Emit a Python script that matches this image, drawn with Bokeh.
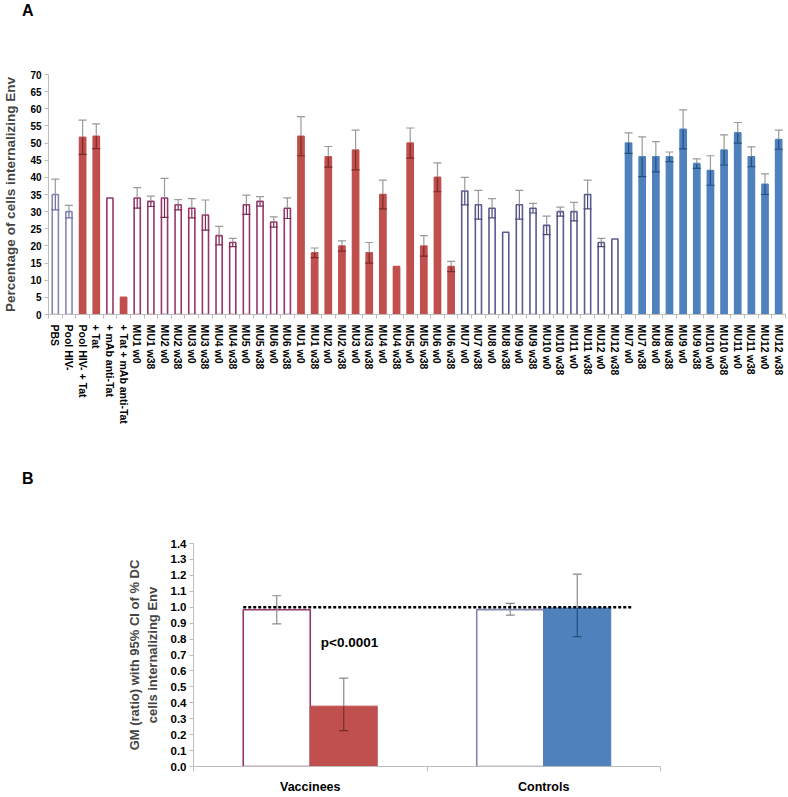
import numpy as np
from bokeh.plotting import figure
from bokeh.models import (Range1d, LinearAxis, FixedTicker, CustomJSTickFormatter,
                          ColumnDataSource, NumeralTickFormatter, Div)
from bokeh.core.properties import value
from bokeh.embed import file_html
from bokeh.resources import INLINE

FONT = "Liberation Sans"

# ---------------- Panel A data ----------------
control_labels = ["PBS", "Pool HIV-", "Pool HIV- + Tat", "+ Tat", "+ mAb anti-Tat", "+ Tat + mAb anti-Tat"]
control_values = [35, 30, 51.7, 52, 34, 5]
control_errors = [4.5, 1.8, 5.0, 3.6, 0, 0]
control_kinds = ["open_grey", "open_grey", "red", "red", "open_vacc", "red"]

vacc_labels = ["MU1 w0", "MU1 w38", "MU2 w0", "MU2 w38", "MU3 w0", "MU3 w38",
               "MU4 w0", "MU4 w38", "MU5 w0", "MU5 w38", "MU6 w0", "MU6 w38"]
ctrl_labels = ["MU7 w0", "MU7 w38", "MU8 w0", "MU8 w38", "MU9 w0", "MU9 w38",
               "MU10 w0", "MU10 w38", "MU11 w0", "MU11 w38", "MU12 w0", "MU12 w38"]

vacc_open_values = [34, 33, 34, 32, 31, 29, 23, 21, 32, 33, 27, 31]
vacc_open_errors = [3.0, 1.5, 5.7, 1.5, 2.8, 4.4, 2.7, 1.2, 2.8, 1.4, 1.5, 3.0]
vacc_tat_values = [52, 18, 46, 20, 48, 18, 35, 14, 50, 20, 40, 14]
vacc_tat_errors = [5.7, 1.4, 3.0, 1.5, 5.8, 3.0, 4.2, 0, 4.4, 3.0, 4.2, 1.5]
ctrl_open_values = [36, 32, 31, 24, 32, 31, 26, 30, 30, 35, 21, 22]
ctrl_open_errors = [4.0, 4.2, 2.8, 0, 4.2, 1.4, 2.7, 1.3, 2.7, 4.2, 1.2, 0]
ctrl_tat_values = [50, 46, 46, 46, 54, 44, 42, 48, 53, 46, 38, 51]
ctrl_tat_errors = [3.0, 5.8, 4.4, 1.4, 5.7, 1.4, 4.3, 4.4, 3.0, 2.9, 3.0, 2.8]

# ---------------- Panel B data ----------------
groups_b = ["Vaccinees", "Controls"]
ratio_open = [0.984, 0.985]
ratio_open_lo = [0.895, 0.950]
ratio_open_hi = [1.072, 1.024]
ratio_tat = [0.379, 0.995]
ratio_tat_lo = [0.225, 0.815]
ratio_tat_hi = [0.555, 1.208]
reference_ratio = 1.0
p_value_text = "p<0.0001"
panel_letters = ["A", "B"]

# ---------------- styles ----------------
STYLE = {
    "open_grey": dict(fill="white", line="#8686b2", low="#6b6b98"),
    "open_vacc": dict(fill="white", line="#96386a", low="#7a2d55"),
    "red":       dict(fill="#c0504d", line="#c0504d", low="#7c2a28"),
    "open_ctrl": dict(fill="white", line="#5b5b90", low="#4a4a78"),
    "blue":      dict(fill="#4f81bd", line="#4f81bd", low="#24507f"),
}
UP_COLOR = "#9a9a9a"
AXIS_COLOR = "#bdbdbd"


def letter_div(letter, height, pad_top):
    html = ('<div style="padding-left:22px;padding-top:%dpx;font-family:\'%s\';'
            'font-weight:bold;font-size:16px;line-height:18px;color:black">%s</div>'
            % (pad_top, FONT, letter))
    return Div(text=html, width=788, height=height, margin=(0, 0, 0, 0))


labels_a = control_labels + vacc_labels + vacc_labels + ctrl_labels + ctrl_labels
values_a = control_values + vacc_open_values + vacc_tat_values + ctrl_open_values + ctrl_tat_values
errors_a = control_errors + vacc_open_errors + vacc_tat_errors + ctrl_open_errors + ctrl_tat_errors
kinds_a = (control_kinds + ["open_vacc"] * len(vacc_labels) + ["red"] * len(vacc_labels)
           + ["open_ctrl"] * len(ctrl_labels) + ["blue"] * len(ctrl_labels))

n = len(labels_a)
xa = np.arange(n) + 0.5
va = np.array(values_a, dtype=float)
ea = np.array(errors_a, dtype=float)

srcA = ColumnDataSource(dict(
    x=xa, top=va,
    fill=[STYLE[k]["fill"] for k in kinds_a],
    line=[STYLE[k]["line"] for k in kinds_a],
))
has_err = ea > 0
errA = ColumnDataSource(dict(
    x=xa[has_err], v=va[has_err], hi=(va + ea)[has_err], lo=(va - ea)[has_err],
    low=[STYLE[k]["low"] for k, h in zip(kinds_a, has_err) if h],
))

pA = figure(width=788, height=430, x_range=Range1d(0, n), y_range=Range1d(0, 70),
            output_backend="svg", toolbar_location=None, x_axis_type=None, y_axis_type=None,
            min_border_left=48, min_border_right=3, min_border_top=54, min_border_bottom=136)
pA.outline_line_color = None

pA.vbar(x="x", top="top", width=0.45, bottom=0, source=srcA, fill_color="fill",
        line_color="line", line_width=1.6)
pA.segment(x0="x", y0="v", x1="x", y1="hi", source=errA, line_color=UP_COLOR, line_width=1.2)
pA.segment(x0="x", y0="lo", x1="x", y1="v", source=errA, line_color="low", line_width=1.2)
pA.scatter(x="x", y="hi", source=errA, marker="dash", size=8, line_color=UP_COLOR, line_width=1.2)
pA.scatter(x="x", y="lo", source=errA, marker="dash", size=8, line_color="low", line_width=1.2)

yA = LinearAxis(ticker=FixedTicker(ticks=list(range(0, 71, 5))),
                axis_label="Percentage of cells internalizing Env")
xA = LinearAxis(ticker=FixedTicker(ticks=list(xa), minor_ticks=list(range(n + 1))),
                formatter=CustomJSTickFormatter(args=dict(labels=labels_a),
                                                code="return labels[Math.floor(tick)];"))
for ax in (yA, xA):
    ax.axis_line_color = AXIS_COLOR
    ax.major_tick_line_color = AXIS_COLOR
    ax.minor_tick_line_color = None
    ax.major_tick_in = 0
    ax.major_tick_out = 4
    ax.major_label_text_font = FONT
    ax.major_label_text_font_style = "bold"
    ax.major_label_text_color = "black"
yA.major_label_text_font_size = "10px"
yA.major_label_standoff = 3
yA.axis_label_text_font = FONT
yA.axis_label_text_font_style = "bold"
yA.axis_label_text_font_size = "13.5px"
yA.axis_label_standoff = 9
xA.major_tick_line_color = None
xA.minor_tick_line_color = AXIS_COLOR
xA.minor_tick_in = 0
xA.minor_tick_out = 4
xA.major_label_orientation = "vertical"
xA.major_label_text_font_size = "10.5px"
xA.major_label_standoff = 6
pA.add_layout(yA, "left")
pA.add_layout(xA, "below")

# ---------------- Panel B ----------------
bar_w = 0.287
xb = np.arange(len(groups_b)) + 0.5
x_open = xb - bar_w / 2
x_tat = xb + bar_w / 2

pB = figure(width=788, height=306, x_range=Range1d(0, len(groups_b)), y_range=Range1d(0, 1.4),
            output_backend="svg", toolbar_location=None, x_axis_type=None, y_axis_type=None,
            min_border_left=193, min_border_right=128, min_border_top=53, min_border_bottom=25)
pB.outline_line_color = None

open_lines = [STYLE["open_vacc"]["line"], STYLE["open_grey"]["line"]]
tat_fills = [STYLE["red"]["fill"], STYLE["blue"]["fill"]]
tat_lows = [STYLE["red"]["low"], STYLE["blue"]["low"]]

pB.vbar(x=x_open, top=ratio_open, width=bar_w, bottom=0, fill_color="white",
        line_color=open_lines, line_width=1.6)
pB.vbar(x=x_tat, top=ratio_tat, width=bar_w, bottom=0, fill_color=tat_fills,
        line_color=tat_fills, line_width=1)

ex = list(x_open) + list(x_tat)
ev = ratio_open + ratio_tat
elo = ratio_open_lo + ratio_tat_lo
ehi = ratio_open_hi + ratio_tat_hi
elow = ["#8a8a8a", "#8a8a8a"] + tat_lows
errB = ColumnDataSource(dict(x=ex, v=ev, lo=elo, hi=ehi, low=elow))
pB.segment(x0="x", y0="v", x1="x", y1="hi", source=errB, line_color="#8a8a8a", line_width=1.2)
pB.segment(x0="x", y0="lo", x1="x", y1="v", source=errB, line_color="low", line_width=1.2)
pB.scatter(x="x", y="hi", source=errB, marker="dash", size=9, line_color="#8a8a8a", line_width=1.2)
pB.scatter(x="x", y="lo", source=errB, marker="dash", size=9, line_color="low", line_width=1.2)

# dotted reference line at ratio 1
ref_x0 = x_open[0] - bar_w / 2
ref_x1 = x_tat[-1] + bar_w / 2 + 0.09
pB.line(x=[ref_x0, ref_x1], y=[reference_ratio, reference_ratio], line_color="black",
        line_width=2.5, line_dash="3 2")

pB.text(x=[x_tat[0] - bar_w / 2 + 0.045], y=[0.78], text=[p_value_text],
        text_font=value(FONT), text_font_style="bold", text_font_size="13.5px",
        text_align="left", text_baseline="middle", text_color="black")

yB = LinearAxis(ticker=FixedTicker(ticks=[i / 10 for i in range(15)]),
                formatter=NumeralTickFormatter(format="0.0"),
                axis_label="GM (ratio) with 95% CI of % DC\ncells internalizing Env")
xB = LinearAxis(ticker=FixedTicker(ticks=list(xb), minor_ticks=list(range(len(groups_b) + 1))),
                formatter=CustomJSTickFormatter(args=dict(labels=groups_b),
                                                code="return labels[Math.floor(tick)];"))
for ax in (yB, xB):
    ax.axis_line_color = AXIS_COLOR
    ax.major_tick_line_color = AXIS_COLOR
    ax.minor_tick_line_color = None
    ax.major_tick_in = 0
    ax.major_tick_out = 4
    ax.major_label_text_font = FONT
    ax.major_label_text_font_style = "bold"
    ax.major_label_text_color = "black"
    ax.major_label_text_font_size = "11.5px"
yB.major_label_standoff = 3
yB.axis_label_text_font = FONT
yB.axis_label_text_font_style = "bold"
yB.axis_label_text_font_size = "13px"
yB.axis_label_standoff = 8
xB.major_tick_line_color = None
xB.minor_tick_line_color = AXIS_COLOR
xB.minor_tick_in = 0
xB.minor_tick_out = 5
xB.major_label_standoff = 8
xB.major_label_text_font_size = "12.5px"
pB.add_layout(yB, "left")
pB.add_layout(xB, "below")

divA = letter_div(panel_letters[0], 20, 2)
divB = letter_div(panel_letters[1], 40, 20)

# independent roots stacked vertically (avoids border alignment between panels)
open("out.html", "w").write(file_html([divA, pA, divB, pB], INLINE))
